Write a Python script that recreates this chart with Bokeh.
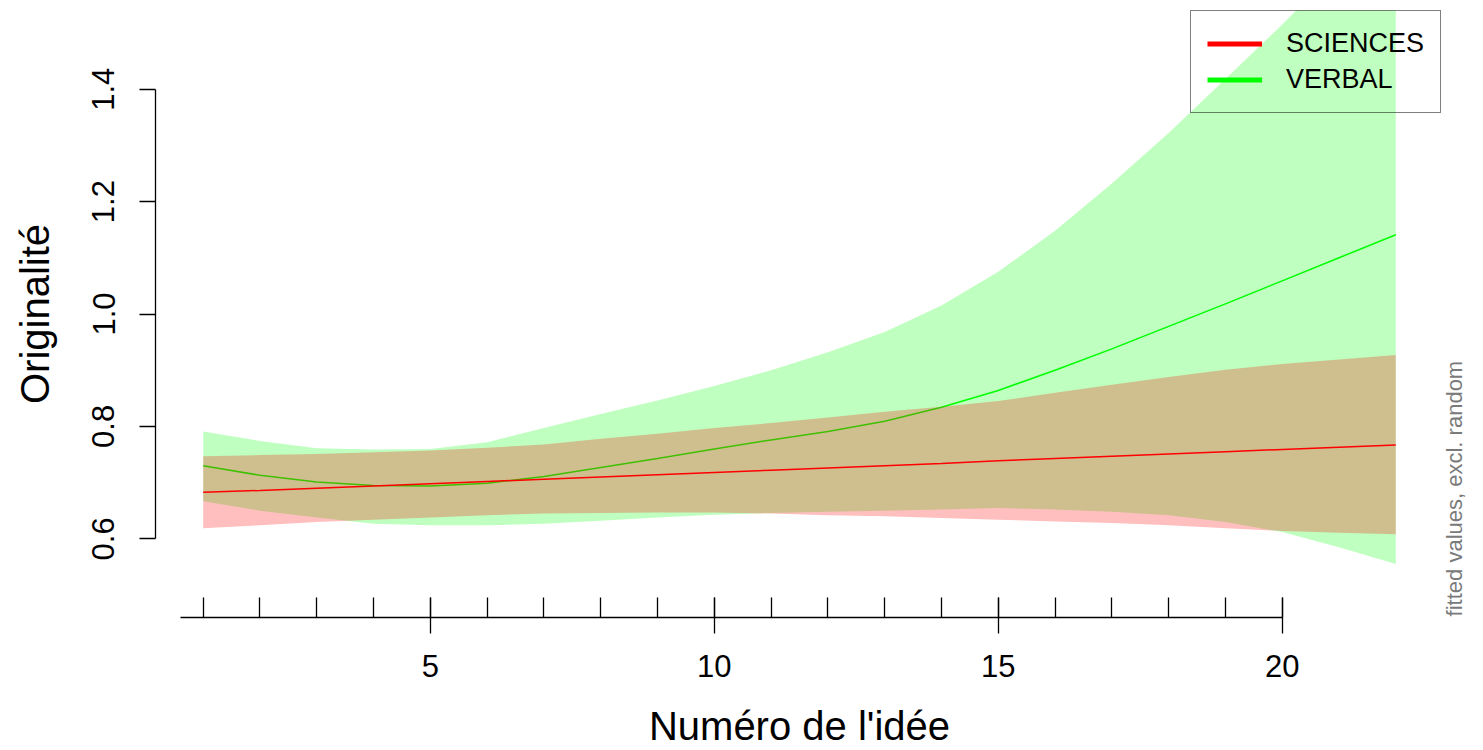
import math

from bokeh.embed import file_html
from bokeh.models import FixedTicker, Legend, LegendItem, LinearAxis, Range1d
from bokeh.plotting import figure
from bokeh.resources import INLINE

# Fitted originality by idea number, with confidence bands, for the two groups
idea_num = list(range(1, 23))

sciences_fit = [0.683, 0.686, 0.690, 0.694, 0.698, 0.702, 0.706, 0.710, 0.714, 0.718, 0.722,
                0.726, 0.730, 0.734, 0.739, 0.743, 0.747, 0.751, 0.755, 0.759, 0.763, 0.767]
sciences_upper = [0.747, 0.749, 0.751, 0.754, 0.757, 0.762, 0.768, 0.778, 0.787, 0.797, 0.806,
                  0.816, 0.826, 0.835, 0.845, 0.860, 0.874, 0.888, 0.901, 0.911, 0.919, 0.927]
sciences_lower = [0.619, 0.624, 0.630, 0.634, 0.638, 0.642, 0.645, 0.646, 0.647, 0.647, 0.645,
                  0.642, 0.640, 0.637, 0.634, 0.631, 0.628, 0.624, 0.619, 0.614, 0.611, 0.608]

verbal_fit = [0.730, 0.713, 0.701, 0.695, 0.694, 0.699, 0.711, 0.727, 0.743, 0.760, 0.776,
              0.791, 0.809, 0.834, 0.864, 0.900, 0.938, 0.978, 1.018, 1.059, 1.100, 1.141]
verbal_upper = [0.791, 0.774, 0.761, 0.759, 0.760, 0.772, 0.797, 0.822, 0.846, 0.872, 0.900,
                0.932, 0.968, 1.015, 1.075, 1.148, 1.232, 1.322, 1.418, 1.515, 1.618, 1.727]
verbal_lower = [0.667, 0.650, 0.638, 0.627, 0.624, 0.624, 0.627, 0.632, 0.638, 0.643, 0.646,
                0.648, 0.650, 0.652, 0.655, 0.652, 0.648, 0.642, 0.630, 0.612, 0.585, 0.555]

group_names = ["SCIENCES", "VERBAL"]
group_colors = ["#FF0000", "#00FF00"]

x_major_ticks = [5, 10, 15, 20]
x_minor_ticks = list(range(1, 21))
y_ticks = [0.6, 0.8, 1.0, 1.2, 1.4]
y_tick_labels = ["0.6", "0.8", "1.0", "1.2", "1.4"]

x_title = "Numéro de l'idée"
y_title = "Originalité"
side_note = "fitted values, excl. random"

x_lim = (1, 22)
y_lim = (0.5, 1.5)

FONT = "Liberation Sans"


def padded(lim, frac=0.04):
    d = (lim[1] - lim[0]) * frac
    return lim[0] - d, lim[1] + d


x0, x1 = padded(x_lim)
y0, y1 = padded(y_lim)

p = figure(
    width=1483, height=750,
    x_range=Range1d(x0, x1), y_range=Range1d(y0, y1),
    output_backend="svg", toolbar_location=None,
    min_border_left=155, min_border_right=40, min_border_top=10, min_border_bottom=133,
)
p.outline_line_color = None
p.grid.visible = False
p.background_fill_color = "white"

# bands and fitted lines: verbal first, sciences drawn over it
p.varea(x=idea_num, y1=verbal_lower, y2=verbal_upper,
        fill_color=group_colors[1], fill_alpha=0.25)
p.line(idea_num, verbal_fit, line_color=group_colors[1], line_width=1.5)
p.varea(x=idea_num, y1=sciences_lower, y2=sciences_upper,
        fill_color=group_colors[0], fill_alpha=0.25)
p.line(idea_num, sciences_fit, line_color=group_colors[0], line_width=1.5)

# x axis
xa = p.xaxis[0]
xa.ticker = FixedTicker(ticks=x_major_ticks, minor_ticks=x_minor_ticks)
xa.bounds = (0.6, x_major_ticks[-1])
xa.axis_line_color = "black"
xa.axis_line_width = 1.3
xa.major_tick_line_color = "black"
xa.major_tick_line_width = 1.3
xa.minor_tick_line_color = "black"
xa.minor_tick_line_width = 1.3
xa.major_tick_in = 20
xa.major_tick_out = 16
xa.minor_tick_in = 20
xa.minor_tick_out = 0
xa.major_label_text_font = FONT
xa.major_label_text_font_size = "31px"
xa.major_label_text_color = "black"
xa.major_label_standoff = 21
xa.axis_label = x_title
xa.axis_label_text_font = FONT
xa.axis_label_text_font_size = "40px"
xa.axis_label_text_font_style = "normal"
xa.axis_label_text_color = "black"
xa.axis_label_standoff = 24

# y axis
ya = p.yaxis[0]
ya.ticker = FixedTicker(ticks=y_ticks, minor_ticks=[])
ya.major_label_overrides = dict(zip(y_ticks, y_tick_labels))
ya.bounds = (y_ticks[0], y_ticks[-1])
ya.axis_line_color = "black"
ya.axis_line_width = 1.3
ya.major_tick_line_color = "black"
ya.major_tick_line_width = 1.3
ya.major_tick_in = 0
ya.major_tick_out = 16
ya.minor_tick_in = 0
ya.minor_tick_out = 0
ya.major_label_orientation = "vertical"
ya.major_label_text_font = FONT
ya.major_label_text_font_size = "31px"
ya.major_label_text_color = "black"
ya.major_label_standoff = 25
ya.axis_label = y_title
ya.axis_label_text_font = FONT
ya.axis_label_text_font_size = "40px"
ya.axis_label_text_font_style = "normal"
ya.axis_label_text_color = "black"
ya.axis_label_standoff = 33

# side note in the right margin, reading upwards from the bottom of the plot region
note_pos = 0.462
note_axis = LinearAxis(
    ticker=FixedTicker(ticks=[note_pos], minor_ticks=[]),
    major_label_overrides={note_pos: side_note},
    axis_line_color=None, major_tick_line_color=None, minor_tick_line_color=None,
    major_tick_in=0, major_tick_out=0, minor_tick_in=0, minor_tick_out=0,
    major_label_orientation=math.pi / 2, major_label_standoff=11,
    major_label_text_font=FONT, major_label_text_font_size="22px",
    major_label_text_color="#7a7a7a",
)
p.add_layout(note_axis, "right")

# legend swatches (thick lines, nothing drawn in the plot area)
swatches = [p.line(x=[math.nan], y=[math.nan], line_color=c, line_width=5) for c in group_colors]
legend = Legend(
    items=[LegendItem(label=n, renderers=[r]) for n, r in zip(group_names, swatches)],
    location=(1035, 504), margin=0, padding=16, spacing=3,
    glyph_width=55, glyph_height=33, label_height=33, label_standoff=24,
    label_text_font=FONT, label_text_font_size="27px", label_text_color="black",
    border_line_color="black", border_line_width=1.5, background_fill_alpha=0,
)
p.add_layout(legend)

open("out.html", "w").write(file_html(p, INLINE))
